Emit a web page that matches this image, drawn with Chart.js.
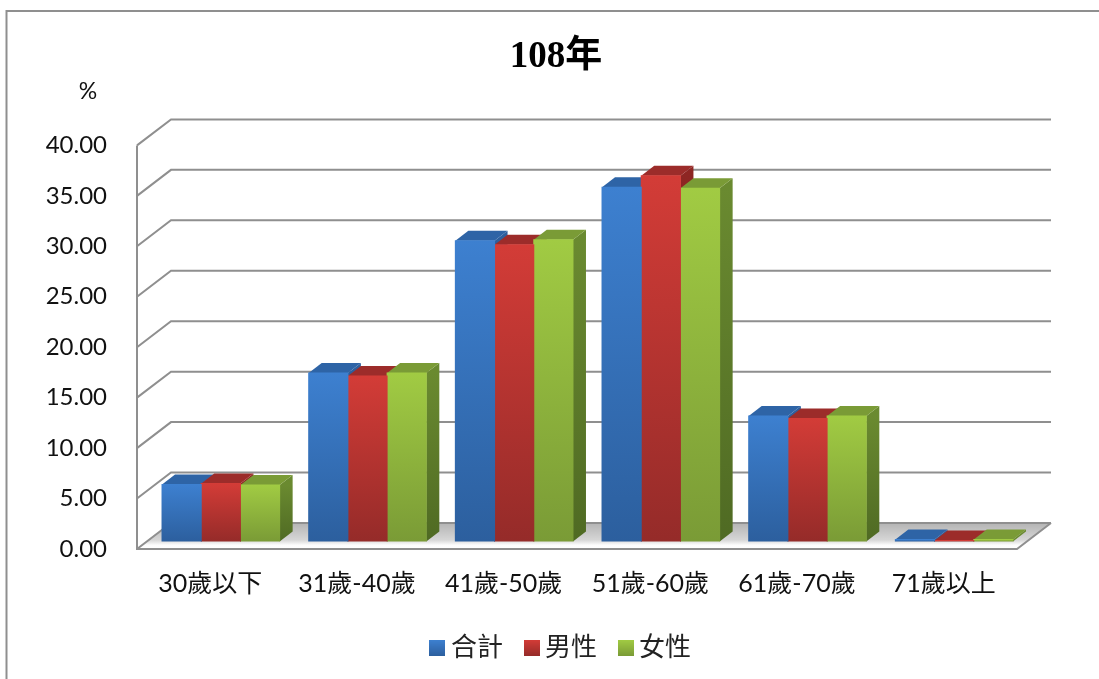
<!DOCTYPE html>
<html>
<head>
<meta charset="utf-8">
<title>108年</title>
<script src="https://cdn.jsdelivr.net/npm/chart.js@4"></script>
<style>
body { margin: 0; background: #fff; }
canvas { display: block; }
</style>
</head>
<body>
<canvas id="ageChart" width="1099" height="679"></canvas>
<script>
const categories = ['30歲以下', '31歲-40歲', '41歲-50歲', '51歲-60歲', '61歲-70歲', '71歲以上'];
const seriesNames = ['合計', '男性', '女性'];
const totalValues = [5.65, 16.7, 29.8, 35.1, 12.45, 0.2];
const maleValues = [5.75, 16.4, 29.4, 36.25, 12.2, 0.1];
const femaleValues = [5.6, 16.7, 29.9, 35.0, 12.45, 0.2];
const yUnit = '%';

const textFont = "Lato, 'Noto Sans CJK TC', sans-serif";

// colours per series: front gradient, top face, side gradient
const shades = [
    { front: ['#3d80d0', '#2c5f9e'], top: '#2e64a6', side: ['#2d5f9d', '#20467a'] },
    { front: ['#d33c37', '#952b29'], top: '#9c2c2a', side: ['#8e2623', '#6a1c1a'] },
    { front: ['#a1cb43', '#7a9b36'], top: '#7a9b36', side: ['#6a8a30', '#4f6a23'] }
];

const lineGray = '#8f8f8f';
// back wall is shifted this far from the front plane, bars sit in between
const wall = { dx: 34, dy: -26 };
const barPlane = { dx: 10.5, dy: -7.5 };
const barDepth = { dx: 13, dy: -10 };

const ctx = document.getElementById('ageChart').getContext('2d');

function vertical(c, y0, y1, colors) {
    const g = c.createLinearGradient(0, y0, 0, y1);
    g.addColorStop(0, colors[0]);
    g.addColorStop(1, colors[1]);
    return g;
}

function poly(c, pts, fill) {
    c.beginPath();
    c.moveTo(pts[0][0], pts[0][1]);
    pts.slice(1).forEach(p => c.lineTo(p[0], p[1]));
    c.closePath();
    c.fillStyle = fill;
    c.fill();
}

function swatch(colors) {
    const cv = document.createElement('canvas');
    cv.width = 16;
    cv.height = 16;
    const c = cv.getContext('2d');
    c.fillStyle = vertical(c, 0, 16, colors);
    c.fillRect(0, 0, 16, 16);
    return cv;
}

const swatches = shades.map(s => swatch(s.front));

const frame3d = {
    id: 'frame3d',
    afterLayout(chart) {
        // title and legend are centred on the whole frame, not on the plot
        chart.titleBlock.left += 41;
        chart.titleBlock.right += 41;
        chart.legend.left += 49;
        chart.legend.right += 49;
    },
    beforeDraw(chart) {
        // outer chart border, runs off the page at right and bottom
        const c = chart.ctx;
        c.save();
        c.strokeStyle = lineGray;
        c.lineWidth = 2;
        c.beginPath();
        c.moveTo(6.5, 679);
        c.lineTo(6.5, 11);
        c.lineTo(1099, 11);
        c.stroke();
        c.fillStyle = '#111';
        c.font = '23px ' + textFont;
        c.textAlign = 'center';
        c.textBaseline = 'middle';
        c.fillText(yUnit, 88, 92);
        c.restore();
    },
    beforeDatasetsDraw(chart) {
        const c = chart.ctx;
        const { left, right } = chart.chartArea;
        const y = chart.scales.y;
        const y0 = y.getPixelForValue(0);

        c.save();
        // floor
        const floor = c.createLinearGradient(0, y0 + wall.dy, 0, y0);
        floor.addColorStop(0, '#b4b4b4');
        floor.addColorStop(0.65, '#d6d6d6');
        floor.addColorStop(0.85, '#fdfdfd');
        floor.addColorStop(1, '#ffffff');
        poly(c, [[left, y0], [left + wall.dx, y0 + wall.dy], [right + wall.dx, y0 + wall.dy], [right, y0]], floor);

        // gridlines on the back wall and their return on the left wall
        c.strokeStyle = lineGray;
        c.lineWidth = 2;
        y.ticks.forEach(t => {
            const py = y.getPixelForValue(t.value);
            c.beginPath();
            c.moveTo(left, py);
            c.lineTo(left + wall.dx, py + wall.dy);
            c.lineTo(right + wall.dx, py + wall.dy);
            c.stroke();
        });
        c.beginPath();
        c.moveTo(left, y.getPixelForValue(40));
        c.lineTo(left, y0);
        c.lineTo(right, y0);
        c.lineTo(right + wall.dx, y0 + wall.dy);
        c.stroke();

        // bars share a plane in front of the wall
        c.translate(barPlane.dx, barPlane.dy);

        // side and top faces, left to right so neighbours overlap properly
        categories.forEach((_, i) => {
            shades.forEach((s, d) => {
                const el = chart.getDatasetMeta(d).data[i];
                const xl = el.x - el.width / 2;
                const xr = el.x + el.width / 2;
                poly(c, [[xr, el.y], [xr + barDepth.dx, el.y + barDepth.dy],
                    [xr + barDepth.dx, el.base + barDepth.dy], [xr, el.base]],
                    vertical(c, el.y, el.base, s.side));
                poly(c, [[xl, el.y], [xl + barDepth.dx, el.y + barDepth.dy],
                    [xr + barDepth.dx, el.y + barDepth.dy], [xr, el.y]], s.top);
            });
        });
    },
    afterDatasetsDraw(chart) {
        chart.ctx.restore();
    }
};

function frontColor(d) {
    return function (context) {
        const y = context.chart.scales.y;
        const top = y ? y.getPixelForValue(context.raw) : NaN;
        const bottom = y ? y.getPixelForValue(0) : NaN;
        // the legend asks for this before the scales are fitted
        if (!Number.isFinite(top) || !Number.isFinite(bottom)) return shades[d].front[0];
        return vertical(context.chart.ctx, top, bottom, shades[d].front);
    };
}

const ageChart = new Chart(ctx, {
    type: 'bar',
    data: {
        labels: categories,
        datasets: [
            { label: seriesNames[0], data: totalValues, backgroundColor: frontColor(0) },
            { label: seriesNames[1], data: maleValues, backgroundColor: frontColor(1) },
            { label: seriesNames[2], data: femaleValues, backgroundColor: frontColor(2) }
        ]
    },
    plugins: [frame3d],
    options: {
        responsive: false,
        animation: false,
        layout: { padding: { left: 13, right: 82, top: 0, bottom: 8 } },
        datasets: { bar: { categoryPercentage: 0.802, barPercentage: 1, inflateAmount: 0.5 } },
        plugins: {
            tooltip: { enabled: false },
            title: {
                display: true,
                text: '108年',
                color: '#000',
                font: { family: "'Liberation Serif', 'Noto Sans CJK TC', serif", size: 37, weight: 'bold' },
                padding: { top: 35, bottom: 66 }
            },
            legend: {
                position: 'bottom',
                labels: {
                    usePointStyle: true,
                    pointStyleWidth: 1,
                    padding: 28,
                    color: '#222',
                    font: { family: textFont, size: 26 },
                    generateLabels(chart) {
                        const items = Chart.defaults.plugins.legend.labels.generateLabels(chart);
                        items.forEach((it, i) => { it.pointStyle = swatches[i]; });
                        return items;
                    }
                }
            }
        },
        scales: {
            x: {
                grid: { display: false },
                border: { display: false },
                afterFit(scale) { scale.height = 58; },
                ticks: {
                    color: '#111',
                    padding: 12,
                    maxRotation: 0,
                    font: { family: textFont, size: 25 }
                }
            },
            y: {
                min: 0,
                max: 40,
                grid: { display: false },
                border: { display: false },
                afterFit(scale) { scale.width = 124; },
                ticks: {
                    stepSize: 5,
                    color: '#111',
                    padding: 22,
                    font: { family: textFont, size: 24 },
                    callback: v => Number(v).toFixed(2)
                }
            }
        }
    }
});
</script>
</body>
</html>
